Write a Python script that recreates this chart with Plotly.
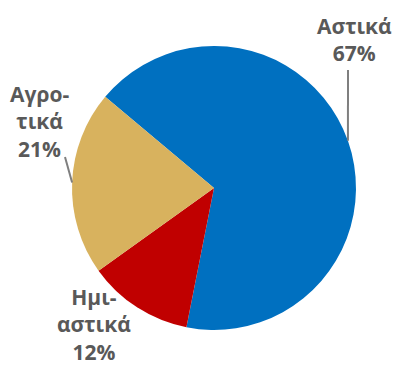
import math
import plotly.graph_objects as go

# Population share by area type
labels = ["Αστικά", "Ημι-αστικά", "Αγροτικά"]
values = [67, 12, 21]
label_lines = [["Αστικά"], ["Ημι-", "αστικά"], ["Αγρο-", "τικά"]]
colors = ["#0070C0", "#C00000", "#D8B25E"]

W, H = 393, 367
cx, cy, r = 214, 188, 142   # pie centre and radius in pixels
rotation = -50               # start angle of first slice, clockwise from 12 o'clock

def px(x):
    return x / W

def py(y):
    return 1 - y / H

fig = go.Figure(go.Pie(
    labels=labels,
    values=values,
    sort=False,
    direction="clockwise",
    rotation=rotation,
    marker=dict(colors=colors, line=dict(width=0)),
    textinfo="none",
    hoverinfo="label+percent",
    showlegend=False,
    domain=dict(x=[px(cx - r), px(cx + r)], y=[py(cy + r), py(cy - r)]),
))

total = sum(values)
font = dict(family="'Open Sans', 'Noto Sans', sans-serif", size=21, color="#595959")

# label anchor positions (pixels) and whether a leader line is drawn
label_pos = [(354, 39), (94, 324), (39, 121)]
leader_top = [(348, 70), None, (65, 157)]

acc = 0
for i, v in enumerate(values):
    pct = round(100 * v / total)
    mid = math.radians(rotation + 360 * (acc + v / 2) / total)
    acc += v
    text = "<br>".join(label_lines[i] + [f"{pct}%"])
    lx, ly = label_pos[i]
    fig.add_annotation(
        x=px(lx), y=py(ly), xref="paper", yref="paper",
        text=f"<b>{text}</b>", showarrow=False, font=font,
        align="center", xanchor="center", yanchor="middle",
    )
    if leader_top[i] is not None:
        ex = cx + r * math.sin(mid)
        ey = cy - r * math.cos(mid)
        tx, ty = leader_top[i]
        fig.add_shape(
            type="line", xref="paper", yref="paper",
            x0=px(tx), y0=py(ty), x1=px(ex), y1=py(ey),
            line=dict(color="#7F7F7F", width=2),
        )

fig.update_layout(
    width=W, height=H,
    margin=dict(l=0, r=0, t=0, b=0),
    paper_bgcolor="white",
    plot_bgcolor="white",
)

fig.write_html("out.html")
